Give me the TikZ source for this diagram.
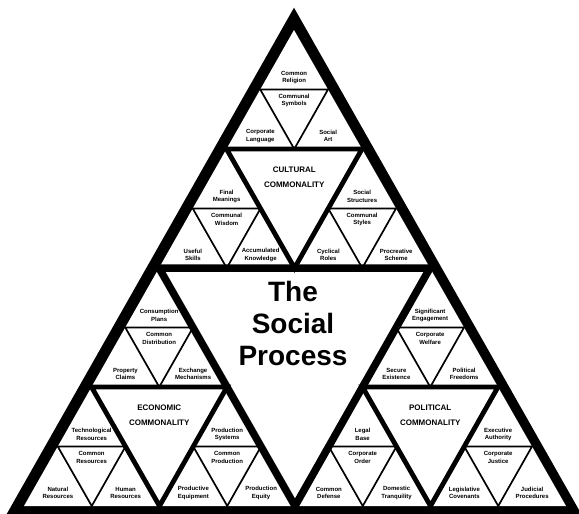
\documentclass[tikz,border=0pt]{standalone}
\usepackage{fontspec}
\setmainfont{Liberation Sans}
\usetikzlibrary{calc}
\tikzset{
  lab/.style={font=\bfseries\fontsize{6}{7.5}\selectfont, align=center, inner sep=0pt},
  head/.style={font=\bfseries\fontsize{8}{15}\selectfont, align=center, inner sep=0pt},
  title/.style={font=\bfseries\fontsize{28}{32}\selectfont, align=center, inner sep=0pt},
  thinl/.style={line width=1.7pt, line join=miter},
  midl/.style={line width=4.8pt, line join=miter},
  bigl/.style={line width=7.5pt, line join=miter},
}
\newcommand{\subcell}[8]{%
  \coordinate (#4p) at ($(#1)!0.5!(#2)$);
  \coordinate (#4q) at ($(#1)!0.5!(#3)$);
  \coordinate (#4s) at ($(#2)!0.5!(#3)$);
  \draw[thinl] (#4p) -- (#4q) -- (#4s) -- cycle;
  \node[lab] (#4c) at ($(#4p)!0.5!(#4q)+(0,11)$) {#5};
  \node[lab] (#4t) at ($(#4p)!0.5!(#4q)+(0,-12)$) {#6};
  \node[lab] (#4l) at ($(#2)!0.5!(#4s)+(0,-13)$) {#7};
  \node[lab] (#4r) at ($(#4s)!0.5!(#3)+(0,-13)$) {#8};
}
\newcommand{\commcell}[5]{%
  \coordinate (#4p) at ($(#1)!0.5!(#2)$);
  \coordinate (#4q) at ($(#1)!0.5!(#3)$);
  \coordinate (#4s) at ($(#2)!0.5!(#3)$);
  \draw[midl] (#4p) -- (#4q) -- (#4s) -- cycle;
  \node[head] (#4h) at ($(#4p)!0.5!(#4q)+(0,28.5)$) {#5};
}
\begin{document}
\begin{tikzpicture}[x=1pt,y=-1pt]
\useasboundingbox (0,0) rectangle (579,514);
\fill[white] (0,0) rectangle (579,514);
% outer band
\coordinate (O1) at (294,7.7);
\coordinate (O2) at (5,517);
\coordinate (O3) at (583,517);
\coordinate (A) at (294,30);
\coordinate (B) at (24,506);
\coordinate (C) at (566,506);
\fill[black] (O1) -- (O2) -- (O3) -- cycle;
\fill[white] (A) -- (B) -- (C) -- cycle;
% level 1
\coordinate (ab) at ($(A)!0.5!(B)$);
\coordinate (ac) at ($(A)!0.5!(C)$);
\coordinate (bc) at ($(B)!0.5!(C)$);
\draw[bigl] (ab) -- (ac) -- (bc) -- cycle;
\node[title] (tsp) at (293,323) {The\\Social\\Process};
% cultural
\commcell{A}{ab}{ac}{K}{CULTURAL\\COMMONALITY}
\subcell{A}{Kp}{Kq}{Ka}{Communal\\Symbols}{Common\\Religion}{Corporate\\Language}{Social\\Art}
\subcell{Kp}{ab}{Ks}{Kb}{Communal\\Wisdom}{Final\\Meanings}{Useful\\Skills}{Accumulated\\Knowledge}
\subcell{Kq}{Ks}{ac}{Kc}{Communal\\Styles}{Social\\Structures}{Cyclical\\Roles}{Procreative\\Scheme}
% economic
\commcell{ab}{B}{bc}{E}{ECONOMIC\\COMMONALITY}
\subcell{ab}{Ep}{Eq}{Ea}{Common\\Distribution}{Consumption\\Plans}{Property\\Claims}{Exchange\\Mechanisms}
\subcell{Ep}{B}{Es}{Eb}{Common\\Resources}{Technological\\Resources}{Natural\\Resources}{Human\\Resources}
\subcell{Eq}{Es}{bc}{Ec}{Common\\Production}{Production\\Systems}{Productive\\Equipment}{Production\\Equity}
% political
\commcell{ac}{bc}{C}{P}{POLITICAL\\COMMONALITY}
\subcell{ac}{Pp}{Pq}{Pa}{Corporate\\Welfare}{Significant\\Engagement}{Secure\\Existence}{Political\\Freedoms}
\subcell{Pp}{bc}{Ps}{Pb}{Corporate\\Order}{Legal\\Base}{Common\\Defense}{Domestic\\Tranquility}
\subcell{Pq}{Ps}{C}{Pc}{Corporate\\Justice}{Executive\\Authority}{Legislative\\Covenants}{Judicial\\Procedures}
\end{tikzpicture}
\end{document}
